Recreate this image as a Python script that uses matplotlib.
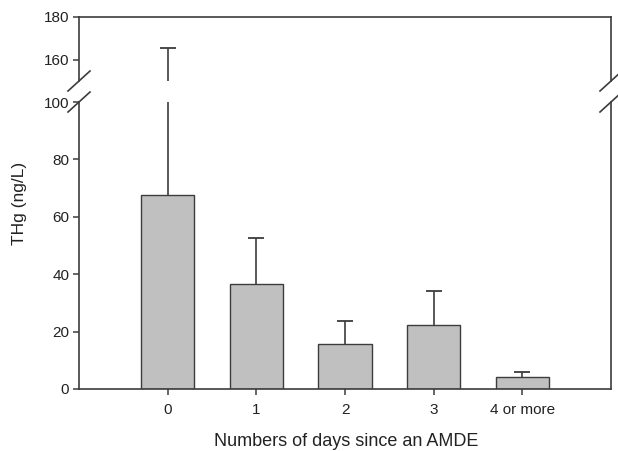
import matplotlib
matplotlib.use("Agg")
import matplotlib.pyplot as plt
from matplotlib.lines import Line2D
import numpy as np

plt.rcParams['font.family'] = ['Liberation Sans', 'DejaVu Sans']

categories = ['0', '1', '2', '3', '4 or more']
means = [67.6, 36.5, 15.7, 22.3, 4.1]
upper = [165.4, 52.5, 23.8, 34.3, 5.9]

W, H = 618, 451
fig = plt.figure(figsize=(W / 100, H / 100), dpi=100)

def fx(px):
    return px / W

def fy(py):
    return (H - py) / H

left, right = 79, 611
bot_b, bot_t = 389, 102
top_b, top_t = 81, 17

ax_bot = fig.add_axes([fx(left), fy(bot_b), fx(right) - fx(left), fy(bot_t) - fy(bot_b)])
ax_top = fig.add_axes([fx(left), fy(top_b), fx(right) - fx(left), fy(top_t) - fy(top_b)], sharex=ax_bot)

edge = '#3c3c3c'
txt = '#222222'
x = np.arange(len(categories))
for ax in (ax_bot, ax_top):
    ax.vlines(x, means, upper, color=edge, linewidth=1.2, zorder=1)
    ax.plot(x, upper, linestyle='none', marker='_', markersize=12,
            markeredgewidth=1.3, color=edge, zorder=1)
    ax.bar(x, means, width=0.6, color='#c0c0c0', edgecolor=edge, linewidth=1.0, zorder=2)
    for s in ax.spines.values():
        s.set_color(edge)
        s.set_linewidth(1.2)
    ax.tick_params(axis='y', direction='out', length=4, width=1.1, color=edge,
                   labelsize=11, labelcolor=txt, pad=3)
    ax.set_xlim(-1, 5)

ax_bot.set_ylim(0, 100)
ax_bot.set_yticks([0, 20, 40, 60, 80, 100])
ax_bot.spines['top'].set_visible(False)
ax_bot.set_xticks(x)
ax_bot.set_xticklabels(categories)
ax_bot.tick_params(axis='x', direction='out', length=4, width=1.1, color=edge,
                   labelsize=11, labelcolor=txt, pad=6)

ax_top.set_ylim(150, 180)
ax_top.set_yticks([160, 180])
ax_top.spines['bottom'].set_visible(False)
ax_top.tick_params(axis='x', bottom=False, labelbottom=False)

# break marks
for sx in (left, right):
    for sy in (top_b, bot_t):
        fig.add_artist(Line2D([fx(sx - 11), fx(sx + 11)], [fy(sy + 10), fy(sy - 10)],
                              color=edge, linewidth=1.2))

fig.text(fx(20), fy(203), 'THg (ng/L)', rotation=90, ha='center', va='center',
         fontsize=12.5, color=txt)
fig.text(fx(346), fy(441), 'Numbers of days since an AMDE', ha='center', va='center',
         fontsize=13, color=txt)

fig.savefig('out.png', dpi=100)
